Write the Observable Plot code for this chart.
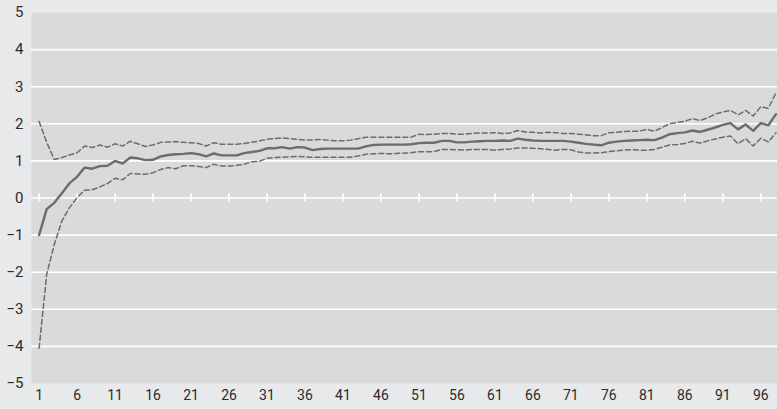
<!DOCTYPE html>
<html>
<head>
<meta charset="utf-8">
<script src="https://cdn.jsdelivr.net/npm/d3@7"></script>
<script src="https://cdn.jsdelivr.net/npm/@observablehq/plot@0.6"></script>
<style>
  html, body { margin: 0; padding: 0; background: #e8e9ea; }
  #chart svg { display: block; }
</style>
</head>
<body>
<div id="chart"></div>
<script>
const periods = d3.range(1, 99);
const estimate = [-1.00,-0.30,-0.13,0.13,0.40,0.57,0.82,0.79,0.86,0.87,
  1.00,0.93,1.09,1.07,1.02,1.03,1.12,1.16,1.18,1.19,
  1.21,1.18,1.12,1.20,1.15,1.15,1.15,1.21,1.24,1.27,
  1.34,1.34,1.37,1.33,1.37,1.36,1.29,1.32,1.33,1.33,
  1.33,1.33,1.33,1.39,1.43,1.44,1.44,1.44,1.44,1.45,
  1.48,1.49,1.49,1.54,1.54,1.50,1.50,1.52,1.53,1.54,
  1.54,1.55,1.54,1.60,1.57,1.55,1.54,1.54,1.54,1.54,
  1.52,1.49,1.46,1.44,1.42,1.49,1.52,1.54,1.55,1.56,
  1.57,1.56,1.63,1.72,1.75,1.77,1.82,1.78,1.84,1.90,
  1.97,2.02,1.85,1.98,1.81,2.02,1.96,2.26];
const upper = [2.06,1.50,1.04,1.09,1.16,1.22,1.40,1.36,1.43,1.37,
  1.46,1.40,1.53,1.46,1.39,1.43,1.50,1.51,1.52,1.50,
  1.49,1.47,1.40,1.49,1.45,1.45,1.45,1.47,1.50,1.54,
  1.58,1.60,1.62,1.60,1.58,1.56,1.56,1.58,1.56,1.54,
  1.54,1.56,1.60,1.64,1.64,1.64,1.64,1.64,1.64,1.64,
  1.72,1.71,1.72,1.74,1.74,1.72,1.72,1.74,1.75,1.75,
  1.76,1.74,1.75,1.82,1.78,1.77,1.75,1.77,1.76,1.74,
  1.74,1.72,1.70,1.68,1.68,1.76,1.77,1.79,1.80,1.80,
  1.85,1.80,1.90,2.00,2.04,2.07,2.14,2.09,2.16,2.26,
  2.32,2.36,2.24,2.36,2.21,2.46,2.42,2.84];
const lower = [-4.05,-2.06,-1.25,-0.62,-0.26,0.01,0.21,0.22,0.30,0.39,
  0.53,0.49,0.66,0.65,0.64,0.68,0.77,0.82,0.79,0.87,
  0.87,0.85,0.82,0.91,0.86,0.86,0.88,0.91,0.98,0.99,
  1.07,1.09,1.10,1.11,1.12,1.11,1.10,1.10,1.10,1.10,
  1.10,1.10,1.13,1.18,1.19,1.20,1.19,1.20,1.21,1.22,
  1.25,1.25,1.25,1.31,1.31,1.30,1.29,1.31,1.31,1.31,
  1.29,1.31,1.32,1.35,1.35,1.34,1.33,1.31,1.29,1.31,
  1.30,1.24,1.21,1.21,1.22,1.25,1.27,1.29,1.30,1.29,
  1.29,1.31,1.37,1.43,1.44,1.47,1.53,1.48,1.54,1.59,
  1.64,1.67,1.46,1.60,1.40,1.61,1.51,1.76];
const xTicks = d3.range(1, 97, 5);
const yTicks = d3.range(-5, 6);
const gridLines = d3.range(-4, 5);

const rows = periods.map((p, i) => ({p, est: estimate[i], up: upper[i], lo: lower[i]}));
const lineColor = "#6b6c6e";

const chart = Plot.plot({
  width: 777,
  height: 409,
  marginLeft: 31,
  marginRight: 0,
  marginTop: 12,
  marginBottom: 26,
  style: {background: "#e8e9ea", fontFamily: "Roboto, 'Noto Sans', sans-serif", color: "#2b2b2b"},
  x: {domain: [0, 98.2], ticks: xTicks, tickSize: 0, tickPadding: 7, label: null, tickFormat: d => String(d)},
  y: {domain: [-5, 5], ticks: yTicks, tickSize: 0, tickPadding: 8, label: null},
  marks: [
    Plot.frame({fill: "#d9dadb", stroke: null}),
    Plot.ruleY(gridLines, {stroke: "#ffffff", strokeWidth: 1.6}),
    Plot.ruleX(xTicks, {y1: -0.11, y2: 0.11, stroke: "#ffffff", strokeWidth: 1.6}),
    Plot.line(rows, {x: "p", y: "up", stroke: lineColor, strokeWidth: 1.5, strokeDasharray: "5,3"}),
    Plot.line(rows, {x: "p", y: "lo", stroke: lineColor, strokeWidth: 1.5, strokeDasharray: "5,3"}),
    Plot.line(rows, {x: "p", y: "est", stroke: lineColor, strokeWidth: 2.4}),
    Plot.axisY({ticks: yTicks, tickSize: 0, tickPadding: 8, fontSize: 15, label: null}),
    Plot.axisX({ticks: xTicks, tickSize: 0, tickPadding: 7, fontSize: 14, label: null, tickFormat: d => String(d)})
  ]
});
document.getElementById("chart").appendChild(chart);
</script>
</body>
</html>
